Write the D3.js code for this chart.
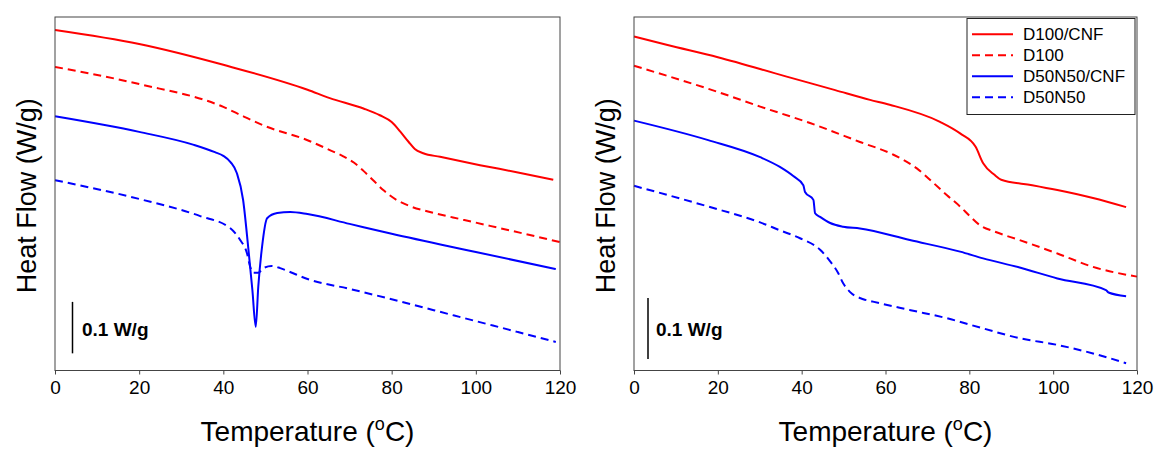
<!DOCTYPE html>
<html><head><meta charset="utf-8">
<script src="https://cdn.jsdelivr.net/npm/d3@7"></script>
<style>body{margin:0;background:#fff;} svg{display:block;font-family:"Liberation Sans",Arial,sans-serif;}</style>
</head><body>
<svg id="c" width="1155" height="449"></svg>
<script>
// ---- data (Heat flow, W/g, offset) ----
const seriesNames = ["D100/CNF","D100","D50N50/CNF","D50N50"];
const seriesColors = ["#ff0000","#ff0000","#0000ff","#0000ff"];
const seriesDashed = [false,true,false,true];
const xTicks = [0,20,40,60,80,100,120];

// Left panel
const L_D100CNF_T = [0,20,40,60,65.3,73.3,77.2,80,82,84,85.5,87.5,91.5,101,110,118.4];
const L_D100CNF_V = [0.655,0.628,0.588,0.540,0.524,0.504,0.491,0.478,0.460,0.440,0.426,0.418,0.411,0.395,0.381,0.367];
const L_D100_T = [0,20,40,45,50,60,65.3,68.5,71,73.3,75.6,78,81.2,84.4,89.1,97,108.9,120];
const L_D100_V = [0.584,0.551,0.507,0.488,0.470,0.443,0.424,0.412,0.400,0.384,0.366,0.347,0.328,0.316,0.305,0.290,0.268,0.247];
const L_D50CNF_T = [0,20,33,38,40,41.7,43.2,44.7,45.9,46.9,47.7,48.3,49.2,50.4,52.8,55.9,60,70,80,100,119];
const L_D50CNF_V = [0.489,0.459,0.434,0.420,0.413,0.401,0.380,0.328,0.238,0.155,0.084,0.161,0.238,0.293,0.303,0.305,0.301,0.282,0.263,0.228,0.195];
const L_D50_T = [0,20,34.5,41.6,44,45.6,46.4,47.1,48.3,49.5,51.5,53.5,56,60,70,80,90,100,110,119];
const L_D50_V = [0.366,0.330,0.297,0.274,0.251,0.226,0.199,0.188,0.188,0.197,0.201,0.197,0.189,0.176,0.157,0.137,0.116,0.095,0.074,0.055];

// Right panel
const R_D100CNF_T = [0,8,20,36,48,56.3,61,73,77.8,81.5,83.3,86,87.6,95,101,109.5,117.4];
const R_D100CNF_V = [0.548,0.534,0.514,0.483,0.460,0.444,0.436,0.408,0.389,0.367,0.340,0.321,0.313,0.304,0.296,0.283,0.268];
const R_D100_T = [0,20,30.1,42,53.9,61.9,67.4,71.4,74.6,77.8,80,82.4,86,92,101,109.5,120];
const R_D100_V = [0.500,0.457,0.433,0.406,0.375,0.354,0.332,0.308,0.288,0.269,0.254,0.239,0.228,0.214,0.192,0.170,0.154];
const R_D50CNF_T = [0,17.7,30.1,34.8,38,40.4,40.8,42.8,43.2,44.4,46.8,49.9,53.9,65.8,77.8,83.3,92,101,112.6,113.2,117.4];
const R_D50CNF_V = [0.410,0.378,0.350,0.334,0.319,0.304,0.293,0.280,0.258,0.252,0.242,0.236,0.233,0.214,0.195,0.184,0.169,0.151,0.132,0.128,0.122];
const R_D50_T = [0,17.7,30.1,34.8,39.6,44.4,46.8,48.7,49.9,51.5,54.7,57,66,74.5,83.3,92,101,109.5,117.4];
const R_D50_V = [0.303,0.269,0.243,0.230,0.217,0.198,0.179,0.160,0.143,0.129,0.117,0.113,0.099,0.086,0.069,0.053,0.042,0.028,0.012];

const panels = [
  {x0:55, x1:560, yMax:0.68, bar:[0.033,0.132], barX:72.5, labX:82, series:[[L_D100CNF_T,L_D100CNF_V],[L_D100_T,L_D100_V],[L_D50CNF_T,L_D50CNF_V],[L_D50_T,L_D50_V]], legend:false, ytx:36},
  {x0:634, x1:1137, yMax:0.58, bar:[0.019,0.119], barX:648, labX:656, series:[[R_D100CNF_T,R_D100CNF_V],[R_D100_T,R_D100_V],[R_D50CNF_T,R_D50CNF_V],[R_D50_T,R_D50_V]], legend:true, ytx:615}
];
const plotTop = 17, plotBottom = 370.5;
const svg = d3.select("#c");

panels.forEach(p => {
  const x = d3.scaleLinear().domain([0,120]).range([p.x0,p.x1]);
  const y = d3.scaleLinear().domain([0,p.yMax]).range([plotBottom,plotTop]);
  const g = svg.append("g");
  p.series.forEach((s,i) => {
    const pts = s[0].map((t,k)=>[t,s[1][k]]);
    g.append("path").datum(pts)
      .attr("fill","none").attr("stroke",seriesColors[i]).attr("stroke-width",2)
      .attr("stroke-dasharray", seriesDashed[i] ? "8,5" : null)
      .attr("d", d3.line().x(d=>x(d[0])).y(d=>y(d[1])).curve(d3.curveMonotoneX));
  });
  g.append("rect").attr("x",p.x0).attr("y",plotTop).attr("width",p.x1-p.x0).attr("height",plotBottom-plotTop)
    .attr("fill","none").attr("stroke","#444").attr("stroke-width",1);
  const ax = g.append("g").attr("transform",`translate(0,${plotBottom})`)
    .call(d3.axisBottom(x).tickValues(xTicks).tickSize(4).tickPadding(6).tickFormat(d3.format("d")));
  ax.select(".domain").remove();
  ax.selectAll("line").attr("stroke","#444");
  ax.selectAll("text").attr("font-size",19).attr("fill","#000").attr("font-family","Liberation Sans, Arial, sans-serif");
  const xt = g.append("text").attr("x",(p.x0+p.x1)/2).attr("y",441).attr("text-anchor","middle")
    .attr("font-size",28).attr("fill","#000");
  xt.append("tspan").text("Temperature (");
  xt.append("tspan").text("o").attr("font-size",18).attr("dy",-11);
  xt.append("tspan").text("C)").attr("dy",11);
  g.append("text").attr("transform",`translate(${p.ytx},${(plotTop+plotBottom)/2+2}) rotate(-90)`)
    .attr("text-anchor","middle").attr("font-size",27).attr("fill","#000").text("Heat Flow (W/g)");
  g.append("line").attr("x1",p.barX).attr("x2",p.barX).attr("y1",y(p.bar[1])).attr("y2",y(p.bar[0]))
    .attr("stroke","#000").attr("stroke-width",1.5);
  g.append("text").attr("x",p.labX).attr("y",335.5).attr("font-size",19).attr("font-weight","bold").attr("fill","#000").text("0.1 W/g");
  if (p.legend) {
    const lg = g.append("g");
    lg.append("rect").attr("x",967).attr("y",18.5).attr("width",168).attr("height",96)
      .attr("fill","#fff").attr("stroke","#222").attr("stroke-width",1);
    seriesNames.forEach((n,i) => {
      const yy = 34.3 + i*21;
      lg.append("line").attr("x1",972).attr("x2",1013).attr("y1",yy).attr("y2",yy)
        .attr("stroke",seriesColors[i]).attr("stroke-width",2).attr("stroke-dasharray",seriesDashed[i]?"8,5":null);
      lg.append("text").attr("x",1023).attr("y",yy+6).attr("font-size",17).attr("fill","#000").text(n);
    });
  }
});
</script>
</body></html>
